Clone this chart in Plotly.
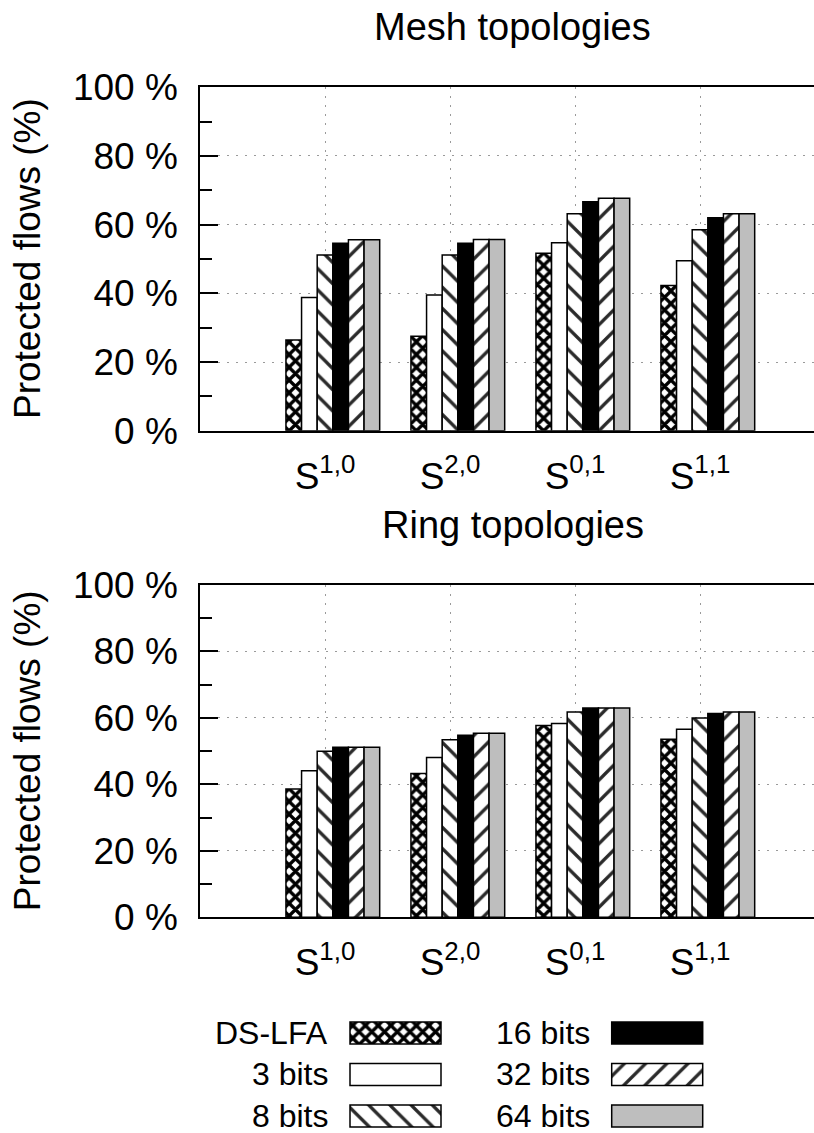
import plotly.graph_objects as go

# ---------------- data ----------------
categories = ["S<sup>1,0</sup>", "S<sup>2,0</sup>", "S<sup>0,1</sup>", "S<sup>1,1</sup>"]
series = ["DS-LFA", "3 bits", "8 bits", "16 bits", "32 bits", "64 bits"]

mesh_dslfa = [26.4, 27.5, 51.7, 42.3]
mesh_3bits = [38.8, 39.5, 54.7, 49.5]
mesh_8bits = [51.2, 51.2, 63.2, 58.5]
mesh_16bits = [54.6, 54.6, 66.7, 62.0]
mesh_32bits = [55.6, 55.7, 67.7, 63.2]
mesh_64bits = [55.6, 55.7, 67.7, 63.2]

ring_dslfa = [38.6, 43.3, 57.7, 53.6]
ring_3bits = [44.1, 48.1, 58.3, 56.6]
ring_8bits = [50.0, 53.4, 61.8, 60.0]
ring_16bits = [51.2, 54.8, 63.0, 61.3]
ring_32bits = [51.2, 55.4, 63.0, 61.8]
ring_64bits = [51.2, 55.4, 63.0, 61.8]

y_ticks = [0, 20, 40, 60, 80, 100]
y_tick_labels = ["0 %", "20 %", "40 %", "60 %", "80 %", "100 %"]
panel_titles = ["Mesh topologies", "Ring topologies"]
y_title = "Protected flows (%)"

mesh = [mesh_dslfa, mesh_3bits, mesh_8bits, mesh_16bits, mesh_32bits, mesh_64bits]
ring = [ring_dslfa, ring_3bits, ring_8bits, ring_16bits, ring_32bits, ring_64bits]

# ---------------- styles ----------------
W, H = 814, 1133
FONT = "Liberation Sans, Arial, sans-serif"
def py(p):
    return 1 - p / H
def pxx(p):
    return p / W

styles = [
    dict(color="white", pattern=dict(shape="x", fgcolor="black", bgcolor="white", size=9, solidity=0.6)),
    dict(color="white"),
    dict(color="white", pattern=dict(shape="\\", fgcolor="#2a2a2a", bgcolor="white", size=15, solidity=0.22)),
    dict(color="black"),
    dict(color="white", pattern=dict(shape="/", fgcolor="#2a2a2a", bgcolor="white", size=15, solidity=0.22)),
    dict(color="#bebebe"),
]

BW = 0.125
xpos = [i + 1 for i in range(len(categories))]

fig = go.Figure()

panels = [(mesh, "x", "y"), (ring, "x2", "y2")]
for data, xa, ya in panels:
    for j, vals in enumerate(data):
        fig.add_trace(go.Bar(
            x=xpos, y=vals, xaxis=xa, yaxis=ya,
            width=BW, offset=(j - 2) * BW - BW / 2,
            marker=dict(line=dict(color="black", width=1.5), **styles[j]),
            name=series[j], showlegend=False,
        ))

# legend drawn as a small hidden subplot
leg_base = [150, 411.7]
leg_len = 91
for j, name in enumerate(series):
    col, row = j // 3, j % 3
    fig.add_trace(go.Bar(
        x=[leg_len], y=[row], base=[leg_base[col]], orientation="h",
        xaxis="x3", yaxis="y3", width=0.53,
        marker=dict(line=dict(color="black", width=1.5), **styles[j]),
        showlegend=False,
    ))
    fig.add_annotation(x=leg_base[col] - 20, y=row, xref="x3", yref="y3",
                       text=name, showarrow=False, xanchor="right", yanchor="middle",
                       font=dict(size=32, family=FONT, color="black"))

GRID = dict(showgrid=True, gridcolor="#9a9a9a", griddash="2px,7px", gridwidth=1.2)
xrange_ = [0, (W - 200) / 125]
xaxis_common = dict(range=xrange_, domain=[pxx(200), 1], tickmode="array", tickvals=xpos, ticktext=categories,
                    showline=True, linecolor="black", linewidth=1.5, mirror=True,
                    ticks="", tickfont=dict(size=37, family=FONT, color="black"),
                    ticklabelstandoff=12, zeroline=False, automargin=False, **GRID)
yaxis_common = dict(range=[0, 100], tickmode="array", tickvals=y_ticks, ticktext=y_tick_labels,
                    showline=True, linecolor="black", linewidth=1.5, mirror=False,
                    ticks="inside", ticklen=18, tickwidth=1.5, tickcolor="black",
                    minor=dict(ticks="inside", ticklen=12, dtick=10, tickwidth=1.5, tickcolor="black", showgrid=False),
                    tickfont=dict(size=37, family=FONT, color="black"),
                    ticklabelstandoff=13, zeroline=False, automargin=False, **GRID)
right_common = dict(range=[0, 100], tickmode="array", tickvals=y_ticks, side="right", showticklabels=False,
                    ticks="inside", ticklen=9, tickwidth=1.5, tickcolor="black",
                    minor=dict(ticks="inside", ticklen=2, dtick=10, tickwidth=1.5, tickcolor="black", showgrid=False),
                    showgrid=False, showline=False, zeroline=False, automargin=False)

top = (87.3, 430.7)
bot = (585.0, 917.3)

fig.update_layout(
    template="none",
    width=W, height=H, margin=dict(l=0, r=0, t=0, b=0, autoexpand=False),
    paper_bgcolor="white", plot_bgcolor="white",
    barmode="overlay", showlegend=False,
    font=dict(family=FONT, color="black"),
    xaxis=dict(anchor="y", **xaxis_common),
    yaxis=dict(anchor="x", domain=[py(top[1]), py(top[0])], **yaxis_common),
    xaxis2=dict(anchor="y2", **xaxis_common),
    yaxis2=dict(anchor="x2", domain=[py(bot[1]), py(bot[0])], **yaxis_common),
    yaxis4=dict(anchor="x", overlaying="y", **right_common),
    yaxis5=dict(anchor="x2", overlaying="y2", **right_common),
    xaxis3=dict(anchor="y3", domain=[pxx(200), 1], range=[0, W - 200], visible=False, automargin=False),
    yaxis3=dict(anchor="x3", domain=[0, py(1000)], range=[2.41, -0.795], visible=False, automargin=False),
)

for (t, b), title in zip([top, bot], panel_titles):
    fig.add_annotation(x=pxx((200 + 825) / 2), y=py(t - 60), xref="paper", yref="paper",
                       text=title, showarrow=False, xanchor="center", yanchor="middle",
                       font=dict(size=38, family=FONT, color="black"))
    fig.add_annotation(x=pxx(27), y=py((t + b) / 2), xref="paper", yref="paper",
                       text=y_title, showarrow=False, textangle=-90,
                       xanchor="center", yanchor="middle",
                       font=dict(size=37, family=FONT, color="black"))

fig.write_html("out.html")
